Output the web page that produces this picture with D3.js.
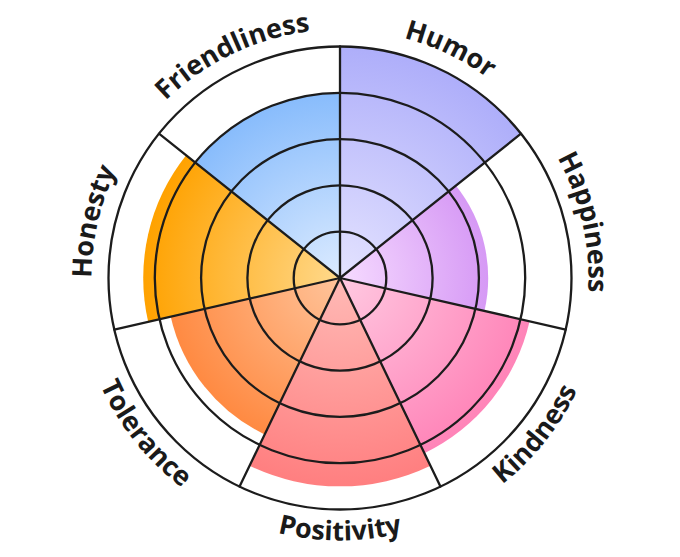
<!DOCTYPE html>
<html>
<head>
<meta charset="utf-8">
<script src="https://cdn.jsdelivr.net/npm/d3@7"></script>
<style>
  body { margin: 0; background: #fff; }
  svg text { font-family: "Open Sans", "Noto Sans", sans-serif; font-weight: 700; }
</style>
</head>
<body>
<div id="chart"></div>
<script>
// categories clockwise from 12 o'clock
var categories = ['Humor', 'Happiness', 'Kindness', 'Positivity', 'Tolerance', 'Honesty', 'Friendliness'];
var values = [5, 3.2, 4.2, 4.5, 3.75, 4.25, 4];
var levels = [1, 2, 3, 4, 5];
var innerColors = ['#e4e3ff', '#f6dbff', '#ffc9e1', '#ffbab6', '#ffc49b', '#ffd98c', '#dcebff'];
var outerColors = ['#aeaefa', '#d699f5', '#ff84b8', '#ff7f80', '#ff8a42', '#ffa200', '#88bcfc'];

var width = 680, height = 557;
var centerX = 340, centerY = 278;
var outerR = 231.5;

var svg = d3.select('#chart').append('svg')
  .attr('width', width)
  .attr('height', height);

var defs = svg.append('defs');
var g = svg.append('g').attr('transform', `translate(${centerX},${centerY})`);

var rScale = d3.scaleLinear().domain([0, 5]).range([0, outerR]);
var angle = d3.scaleBand().domain(categories).range([0, 2 * Math.PI]).paddingInner(0).paddingOuter(0);

// one radial gradient per slice, centred on the chart
categories.forEach(function(c, i) {
  var grad = defs.append('radialGradient')
    .attr('id', 'grad' + i)
    .attr('gradientUnits', 'userSpaceOnUse')
    .attr('cx', 0).attr('cy', 0)
    .attr('r', rScale(values[i]));
  grad.append('stop').attr('offset', '0%').attr('stop-color', innerColors[i]);
  grad.append('stop').attr('offset', '100%').attr('stop-color', outerColors[i]);
});

var arc = d3.arc()
  .innerRadius(0)
  .outerRadius(function(d) { return rScale(d.value); })
  .startAngle(function(d) { return angle(d.name); })
  .endAngle(function(d) { return angle(d.name) + angle.bandwidth(); });

var data = categories.map(function(c, i) { return {name: c, value: values[i], i: i}; });

g.selectAll('.slice')
  .data(data)
  .enter()
  .append('path')
  .attr('class', 'slice')
  .attr('d', arc)
  .attr('fill', function(d) { return 'url(#grad' + d.i + ')'; });

// grid circles
g.selectAll('.ring')
  .data(levels)
  .enter()
  .append('circle')
  .attr('class', 'ring')
  .attr('r', function(d) { return rScale(d); })
  .attr('fill', 'none')
  .attr('stroke', '#1c1c1c')
  .attr('stroke-width', 2.3);

// spokes
g.selectAll('.spoke')
  .data(categories)
  .enter()
  .append('line')
  .attr('class', 'spoke')
  .attr('x1', 0).attr('y1', 0)
  .attr('x2', function(d) { return outerR * Math.sin(angle(d)); })
  .attr('y2', function(d) { return -outerR * Math.cos(angle(d)); })
  .attr('stroke', '#1c1c1c')
  .attr('stroke-width', 2.3)
  .attr('stroke-linecap', 'round');

// curved labels: top half reads clockwise, bottom half counter-clockwise
function pt(r, a) { return [r * Math.sin(a), -r * Math.cos(a)]; }

data.forEach(function(d) {
  var a0 = angle(d.name), a1 = a0 + angle.bandwidth();
  var mid = (a0 + a1) / 2;
  var bottom = mid > Math.PI / 2 + 0.01 && mid < 3 * Math.PI / 2 - 0.01;
  var r = bottom ? outerR + 31 : outerR + 17;
  var p0, p1, sweep;
  if (bottom) { p0 = pt(r, a1); p1 = pt(r, a0); sweep = 0; }
  else { p0 = pt(r, a0); p1 = pt(r, a1); sweep = 1; }
  defs.append('path')
    .attr('id', 'lab' + d.i)
    .attr('d', `M${p0[0]},${p0[1]} A${r},${r} 0 0 ${sweep} ${p1[0]},${p1[1]}`);
  g.append('text')
    .attr('font-size', 27)
    .attr('fill', '#1a1a1a')
    .append('textPath')
    .attr('href', '#lab' + d.i)
    .attr('startOffset', '50%')
    .attr('text-anchor', 'middle')
    .text(d.name);
});
</script>
</body>
</html>
